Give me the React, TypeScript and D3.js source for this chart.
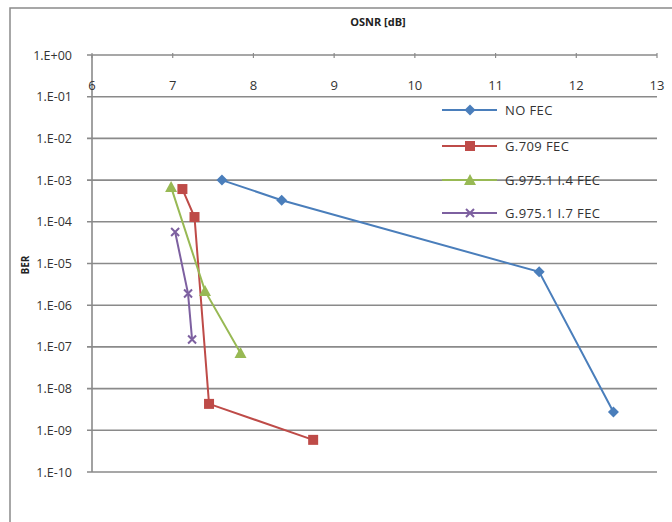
import React, { useEffect, useRef } from 'react';
import * as d3 from 'd3';

// OSNR [dB] vs BER, one array per series
const noFecX = [7.61, 8.35, 11.54, 12.46];
const noFecY = [1e-3, 3.3e-4, 6.3e-6, 2.75e-9];
const g709X = [7.12, 7.27, 7.45, 8.74];
const g709Y = [6.1e-4, 1.3e-4, 4.3e-9, 5.9e-10];
const i4X = [6.98, 7.4, 7.84];
const i4Y = [6.8e-4, 2.2e-6, 7.1e-8];
const i7X = [7.03, 7.19, 7.24];
const i7Y = [5.7e-5, 1.9e-6, 1.5e-7];

const seriesNames = ['NO FEC', 'G.709 FEC', 'G.975.1 I.4 FEC', 'G.975.1 I.7 FEC'];
const xTicks = [6, 7, 8, 9, 10, 11, 12, 13];
const yTicks = [1, 1e-1, 1e-2, 1e-3, 1e-4, 1e-5, 1e-6, 1e-7, 1e-8, 1e-9, 1e-10];
const yTickLabels = ['1.E+00', '1.E-01', '1.E-02', '1.E-03', '1.E-04', '1.E-05', '1.E-06', '1.E-07', '1.E-08', '1.E-09', '1.E-10'];

const App = () => {
  const ref = useRef(null);

  useEffect(() => {
    const width = 672;
    const height = 522;
    const left = 92, right = 657, top = 55, bottom = 472;
    const font = '"Open Sans", "Liberation Sans", sans-serif';
    const grey = '#8a8a8a';

    const svg = d3.select(ref.current);
    svg.selectAll('*').remove();

    const x = d3.scaleLinear().domain([6, 13]).range([left, right]);
    const y = d3.scaleLog().domain([1, 1e-10]).range([top, bottom]);

    // outer frame (runs off the page right and bottom)
    svg.append('rect')
      .attr('x', 10).attr('y', 8)
      .attr('width', 700).attr('height', 600)
      .attr('fill', 'white')
      .attr('stroke', grey)
      .attr('stroke-width', 1.5);

    // horizontal gridlines
    svg.append('g').selectAll('line')
      .data(yTicks)
      .enter()
      .append('line')
      .attr('x1', left - 5)
      .attr('x2', right)
      .attr('y1', (d) => y(d))
      .attr('y2', (d) => y(d))
      .attr('stroke', grey)
      .attr('stroke-width', 1.6);

    // y axis line
    svg.append('line')
      .attr('x1', left).attr('x2', left)
      .attr('y1', top).attr('y2', bottom)
      .attr('stroke', grey)
      .attr('stroke-width', 1.6);

    // x ticks on the top axis
    svg.append('g').selectAll('line')
      .data(xTicks)
      .enter()
      .append('line')
      .attr('x1', (d) => x(d))
      .attr('x2', (d) => x(d))
      .attr('y1', top - 2)
      .attr('y2', top + 3)
      .attr('stroke', grey)
      .attr('stroke-width', 1.2);

    svg.append('g').selectAll('text')
      .data(xTicks)
      .enter()
      .append('text')
      .attr('x', (d) => x(d))
      .attr('y', 90)
      .attr('text-anchor', 'middle')
      .attr('font-family', font)
      .attr('font-size', 13)
      .attr('fill', '#333')
      .text((d) => d);

    svg.append('g').selectAll('text')
      .data(yTicks)
      .enter()
      .append('text')
      .attr('x', 72)
      .attr('y', (d) => y(d) + 4.5)
      .attr('text-anchor', 'end')
      .attr('font-family', font)
      .attr('font-size', 12.5)
      .attr('fill', '#333')
      .text((d, i) => yTickLabels[i]);

    svg.append('text')
      .attr('x', 378).attr('y', 26)
      .attr('text-anchor', 'middle')
      .attr('font-family', font)
      .attr('font-size', 11)
      .attr('font-weight', 'bold')
      .attr('fill', '#222')
      .text('OSNR [dB]');

    svg.append('text')
      .attr('transform', 'translate(29,265) rotate(-90)')
      .attr('text-anchor', 'middle')
      .attr('font-family', font)
      .attr('font-size', 10)
      .attr('font-weight', 'bold')
      .attr('fill', '#222')
      .text('BER');

    const series = [
      { name: seriesNames[0], xs: noFecX, ys: noFecY, color: '#4a7ebb', marker: 'diamond' },
      { name: seriesNames[1], xs: g709X, ys: g709Y, color: '#be4b48', marker: 'square' },
      { name: seriesNames[2], xs: i4X, ys: i4Y, color: '#98b954', marker: 'triangle' },
      { name: seriesNames[3], xs: i7X, ys: i7Y, color: '#7d60a0', marker: 'cross' },
    ];

    const drawMarker = (g, kind, cx, cy, color) => {
      if (kind === 'diamond') {
        g.append('path')
          .attr('d', `M${cx},${cy - 5.5}L${cx + 5.5},${cy}L${cx},${cy + 5.5}L${cx - 5.5},${cy}Z`)
          .attr('fill', color);
      } else if (kind === 'square') {
        g.append('rect')
          .attr('x', cx - 5).attr('y', cy - 5)
          .attr('width', 10).attr('height', 10)
          .attr('fill', color);
      } else if (kind === 'triangle') {
        g.append('path')
          .attr('d', `M${cx},${cy - 6}L${cx + 6},${cy + 5}L${cx - 6},${cy + 5}Z`)
          .attr('fill', color);
      } else {
        g.append('path')
          .attr('d', `M${cx - 4},${cy - 4}L${cx + 4},${cy + 4}M${cx - 4},${cy + 4}L${cx + 4},${cy - 4}`)
          .attr('stroke', color)
          .attr('stroke-width', 2)
          .attr('fill', 'none');
      }
    };

    const line = d3.line()
      .x((d) => x(d[0]))
      .y((d) => y(d[1]));

    series.forEach((s) => {
      const pts = s.xs.map((v, i) => [v, s.ys[i]]);
      const g = svg.append('g');
      g.append('path')
        .attr('d', line(pts))
        .attr('fill', 'none')
        .attr('stroke', s.color)
        .attr('stroke-width', 2);
      pts.forEach((p) => drawMarker(g, s.marker, x(p[0]), y(p[1]), s.color));
    });

    // legend
    const legendY = [110, 146, 180, 213];
    series.forEach((s, i) => {
      const g = svg.append('g');
      g.append('line')
        .attr('x1', 442).attr('x2', 497)
        .attr('y1', legendY[i]).attr('y2', legendY[i])
        .attr('stroke', s.color)
        .attr('stroke-width', 2);
      drawMarker(g, s.marker, 470, legendY[i], s.color);
      g.append('text')
        .attr('x', 505)
        .attr('y', legendY[i] + 4.5)
        .attr('font-family', font)
        .attr('font-size', 13)
        .attr('letter-spacing', 0.4)
        .attr('fill', '#333')
        .text(s.name);
    });

    svg.attr('width', width).attr('height', height);
  }, []);

  return (
    <svg
      ref={ref}
      width={672}
      height={522}
      style={{ position: 'absolute', left: 0, top: 0, background: 'white' }}
    />
  );
};

export default App;
